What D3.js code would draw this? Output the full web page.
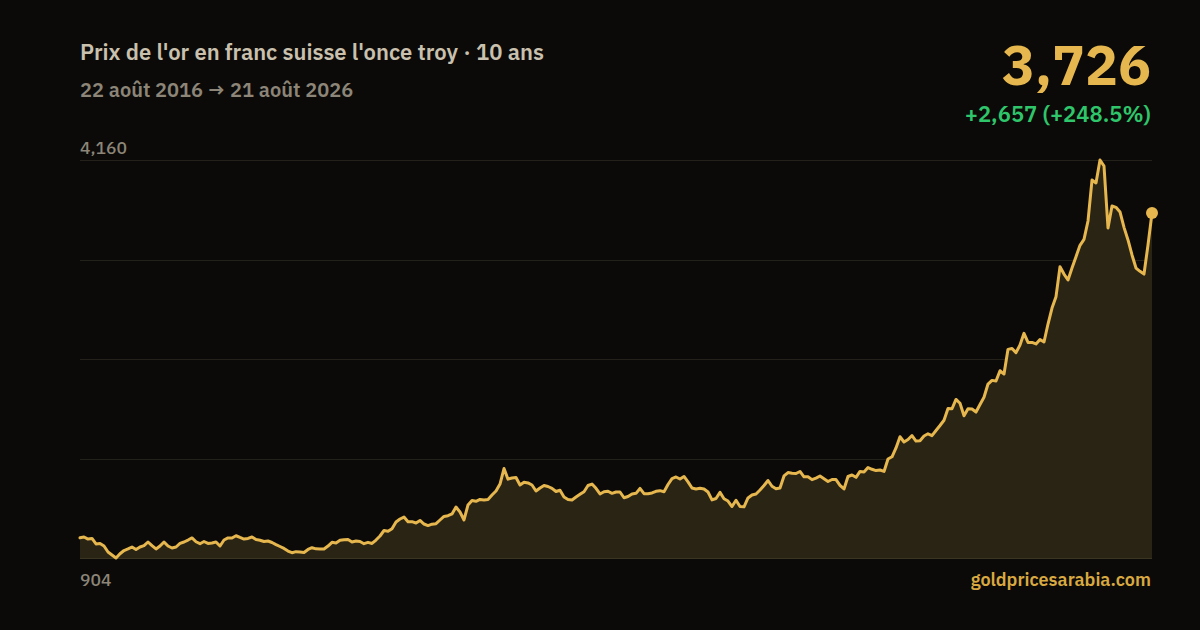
<!DOCTYPE html>
<html><head><meta charset="utf-8">
<script src="https://cdn.jsdelivr.net/npm/d3@7"></script>
<style>
html,body{margin:0;padding:0;background:#0b0a08;}
svg{display:block;}
</style></head>
<body>
<svg id="chart" width="1200" height="630"></svg>
<script>
const titleText = "Prix de l'or en franc suisse l'once troy · 10 ans";
const rangeText = "22 août 2016 → 21 août 2026";
const startDate = "2016-08-22";
const endDate = "2026-08-21";
const yMin = 904;
const yMax = 4160;
const yTickLabels = ["904", "4,160"];
const lastLabel = "3,726";
const changeLabel = "+2,657 (+248.5%)";
const sourceLabel = "goldpricesarabia.com";
const prices = [
1069,1076,1059,1064,1019,1023,1002,953,929,904,
939,965,978,994,974,994,1005,1035,1005,978,
1002,1035,1002,986,994,1023,1035,1051,1068,1037,
1021,1039,1023,1027,1035,1002,1051,1068,1068,1086,
1072,1059,1064,1076,1055,1049,1039,1043,1031,1014,
998,982,961,947,956,953,949,974,988,979,
978,978,1002,1032,1027,1049,1054,1055,1035,1043,
1039,1021,1032,1023,1051,1084,1129,1123,1144,1199,
1223,1239,1201,1201,1190,1211,1182,1169,1181,1185,
1215,1244,1250,1264,1321,1280,1215,1338,1374,1368,
1383,1379,1383,1419,1452,1509,1636,1549,1558,1563,
1501,1523,1518,1501,1452,1477,1497,1489,1474,1448,
1458,1403,1383,1379,1403,1425,1446,1497,1509,1474,
1428,1446,1450,1433,1444,1444,1397,1407,1428,1433,
1473,1430,1430,1436,1450,1455,1446,1505,1554,1567,
1550,1571,1527,1477,1469,1475,1469,1444,1379,1391,
1441,1389,1370,1325,1376,1325,1323,1395,1419,1428,
1460,1497,1538,1491,1471,1477,1575,1603,1597,1595,
1612,1568,1568,1545,1558,1575,1553,1530,1546,1546,
1499,1469,1571,1583,1564,1612,1608,1644,1630,1619,
1624,1612,1714,1732,1804,1896,1853,1873,1906,1861,
1864,1902,1920,1905,1947,1988,2031,2127,2125,2201,
2170,2068,2125,2123,2098,2160,2219,2327,2357,2352,
2436,2409,2611,2618,2584,2647,2742,2668,2668,2655,
2692,2671,2818,2949,3042,3287,3227,3178,3276,3369,
3462,3511,3661,3996,3972,4160,4111,3604,3784,3773,
3735,3609,3506,3383,3276,3249,3227,3465,3726
];

(function () {
const W = 1200, H = 630;
const mLeft = 80, mRight = 1152, mTop = 160, mBottom = 558;
const svg = d3.select("#chart");
svg.append("rect").attr("width", W).attr("height", H).attr("fill", "#0b0a08");

const t0 = new Date(startDate), t1 = new Date(endDate);
const dates = prices.map((_, i) => new Date(+t0 + (t1 - t0) * i / (prices.length - 1)));
const data = prices.map((v, i) => ({date: dates[i], value: v}));

const x = d3.scaleTime().domain([t0, t1]).range([mLeft, mRight]);
const y = d3.scaleLinear().domain([yMin, yMax]).range([mBottom, mTop]);

const gridVals = d3.range(5).map(i => yMin + (yMax - yMin) * i / 4);
svg.append("g").selectAll("line").data(gridVals).join("line")
  .attr("x1", mLeft).attr("x2", mRight)
  .attr("y1", d => Math.round(y(d)) + 0.5).attr("y2", d => Math.round(y(d)) + 0.5)
  .attr("stroke", "#24211b").attr("stroke-width", 1);

const area = d3.area().x(d => x(d.date)).y0(y(yMin)).y1(d => y(d.value)).curve(d3.curveLinear);
const line = d3.line().x(d => x(d.date)).y(d => y(d.value)).curve(d3.curveLinear);

svg.append("path").datum(data).attr("d", area).attr("fill", "#2a2415");
svg.append("line").attr("x1", mLeft).attr("x2", mRight)
  .attr("y1", y(yMin) + 0.5).attr("y2", y(yMin) + 0.5)
  .attr("stroke", "#3a3423").attr("stroke-width", 1);
svg.append("path").datum(data).attr("d", line).attr("fill", "none")
  .attr("stroke", "#e6b74e").attr("stroke-width", 3).attr("stroke-linejoin", "round").attr("stroke-linecap", "round");

const last = data[data.length - 1];
svg.append("circle").attr("cx", x(last.date)).attr("cy", y(last.value)).attr("r", 6).attr("fill", "#e6b74e");

const font = "'IBM Plex Sans', Inter, 'Noto Sans', sans-serif";
svg.append("text").attr("x", 80).attr("y", 60).text(titleText)
  .attr("font-family", font).attr("font-size", 22).attr("font-weight", 600).attr("fill", "#c9c0ae");
svg.append("text").attr("x", 80).attr("y", 97).text(rangeText)
  .attr("font-family", font).attr("font-size", 20).attr("font-weight", 600).attr("fill", "#8c8578");

svg.append("text").attr("x", 1151).attr("y", 85).attr("text-anchor", "end").text(lastLabel)
  .attr("font-family", font).attr("font-size", 55).attr("font-weight", 700).attr("fill", "#e6b74e");
svg.append("text").attr("x", 1151).attr("y", 122).attr("text-anchor", "end").text(changeLabel)
  .attr("font-family", font).attr("font-size", 22).attr("font-weight", 600).attr("fill", "#2fc66b");

svg.append("text").attr("x", 80).attr("y", 154).text(yTickLabels[1])
  .attr("font-family", font).attr("font-size", 17.5).attr("font-weight", 500).attr("fill", "#8c8578");
svg.append("text").attr("x", 80).attr("y", 586).text(yTickLabels[0])
  .attr("font-family", font).attr("font-size", 17.5).attr("font-weight", 500).attr("fill", "#8c8578");
svg.append("text").attr("x", 1151).attr("y", 586).attr("text-anchor", "end").text(sourceLabel)
  .attr("font-family", font).attr("font-size", 18).attr("font-weight", 600).attr("fill", "#d9a941");
})();
</script>
</body></html>
